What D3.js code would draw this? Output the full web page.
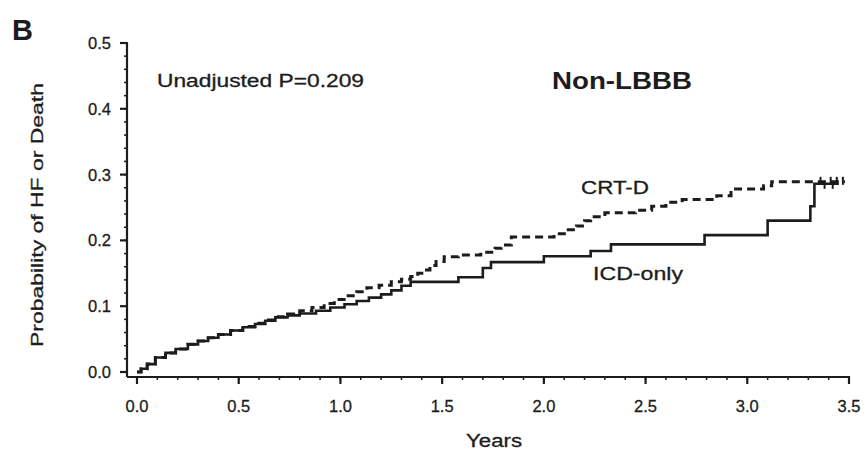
<!DOCTYPE html>
<html>
<head>
<meta charset="utf-8">
<script src="https://cdn.jsdelivr.net/npm/d3@7"></script>
<style>
  html, body { margin: 0; padding: 0; background: #fff; }
  svg { display: block; font-family: "Liberation Sans", Arial, sans-serif; }
</style>
</head>
<body>
<svg id="chart" width="866" height="451"></svg>
<script>
// Kaplan-Meier style cumulative curves
const crtTime = [0, 0.02, 0.05, 0.09, 0.14, 0.19, 0.25, 0.30, 0.35, 0.40, 0.46, 0.52, 0.58, 0.63, 0.68, 0.74, 0.80, 0.86, 0.92, 0.97, 1.03, 1.08, 1.13, 1.19, 1.25, 1.30, 1.345, 1.38, 1.41, 1.44, 1.47, 1.51, 1.58, 1.69, 1.76, 1.79, 1.84, 2.05, 2.12, 2.16, 2.20, 2.23, 2.30, 2.45, 2.53, 2.60, 2.68, 2.85, 2.92, 3.08, 3.12, 3.48];
const crtProb = [0, 0.005, 0.012, 0.022, 0.029, 0.035, 0.042, 0.047, 0.052, 0.057, 0.063, 0.069, 0.074, 0.079, 0.084, 0.088, 0.093, 0.098, 0.104, 0.110, 0.116, 0.122, 0.128, 0.132, 0.137, 0.141, 0.145, 0.150, 0.155, 0.162, 0.168, 0.175, 0.178, 0.182, 0.188, 0.193, 0.205, 0.210, 0.216, 0.222, 0.230, 0.236, 0.242, 0.246, 0.252, 0.258, 0.262, 0.268, 0.278, 0.283, 0.289, 0.289];
const crtCensor = [3.36, 3.41, 3.44, 3.47];

const icdTime = [0, 0.02, 0.05, 0.09, 0.14, 0.19, 0.25, 0.30, 0.35, 0.40, 0.46, 0.52, 0.58, 0.63, 0.68, 0.74, 0.80, 0.88, 0.95, 1.02, 1.08, 1.14, 1.20, 1.25, 1.30, 1.345, 1.58, 1.70, 1.74, 2.00, 2.23, 2.33, 2.79, 3.10, 3.31, 3.33, 3.45];
const icdProb = [0, 0.005, 0.012, 0.022, 0.029, 0.035, 0.042, 0.047, 0.052, 0.057, 0.063, 0.068, 0.073, 0.078, 0.083, 0.086, 0.089, 0.093, 0.098, 0.103, 0.108, 0.113, 0.118, 0.124, 0.131, 0.137, 0.144, 0.158, 0.167, 0.176, 0.184, 0.194, 0.208, 0.230, 0.252, 0.286, 0.286];
const icdCensor = [3.38, 3.42];

const xTicks = [0, 0.5, 1.0, 1.5, 2.0, 2.5, 3.0, 3.5];
const yTicks = [0, 0.1, 0.2, 0.3, 0.4, 0.5];

const svg = d3.select("#chart");
const ink = "#1c1c1c";

const x = d3.scaleLinear().domain([0, 3.5]).range([137, 849]);
const y = d3.scaleLinear().domain([0, 0.5]).range([372, 43]);

// offset axes (GraphPad look)
const yAxisX = 127, xAxisY = 377;

const yMinor = d3.range(0, 0.5001, 0.02);
const xMinor = d3.range(0, 3.5001, 0.1);

// a bit heavier text, the scan is soft and dark
const txt = (sel) => sel.attr("fill", ink).attr("stroke", ink).attr("stroke-width", 0.3);

const gy = svg.append("g").attr("transform", `translate(${yAxisX},0)`);
gy.append("line").attr("x1", 0).attr("x2", 0).attr("y1", y(0.5) - 1).attr("y2", xAxisY)
  .attr("stroke", ink).attr("stroke-width", 2.2);
gy.selectAll("line.minor").data(yMinor).join("line").attr("class", "minor")
  .attr("x1", -3).attr("x2", 0).attr("y1", d => y(d)).attr("y2", d => y(d))
  .attr("stroke", ink).attr("stroke-width", 1.5);
gy.selectAll("line.major").data(yTicks).join("line").attr("class", "major")
  .attr("x1", -7).attr("x2", 0).attr("y1", d => y(d)).attr("y2", d => y(d))
  .attr("stroke", ink).attr("stroke-width", 2.2);
gy.selectAll("text").data(yTicks).join("text")
  .attr("x", -16).attr("y", d => y(d)).attr("dy", "0.36em")
  .attr("text-anchor", "end").attr("font-size", 16.5)
  .call(txt)
  .text(d => d3.format(".1f")(d));

const gx = svg.append("g").attr("transform", `translate(0,${xAxisY})`);
gx.append("line").attr("x1", yAxisX).attr("x2", x(3.5) + 1).attr("y1", 0).attr("y2", 0)
  .attr("stroke", ink).attr("stroke-width", 2.2);
gx.selectAll("line.minor").data(xMinor).join("line").attr("class", "minor")
  .attr("x1", d => x(d)).attr("x2", d => x(d)).attr("y1", 0).attr("y2", 3)
  .attr("stroke", ink).attr("stroke-width", 1.5);
gx.selectAll("line.major").data(xTicks).join("line").attr("class", "major")
  .attr("x1", d => x(d)).attr("x2", d => x(d)).attr("y1", 0).attr("y2", 7)
  .attr("stroke", ink).attr("stroke-width", 2.2);
gx.selectAll("text").data(xTicks).join("text")
  .attr("x", d => x(d)).attr("y", 35)
  .attr("text-anchor", "middle").attr("font-size", 16.5)
  .call(txt)
  .text(d => d3.format(".1f")(d));

// curves
const line = d3.line().x(d => x(d[0])).y(d => y(d[1])).curve(d3.curveStepAfter);
const crt = crtTime.map((t, i) => [t, crtProb[i]]);
const icd = icdTime.map((t, i) => [t, icdProb[i]]);

svg.append("path").attr("d", line(icd)).attr("fill", "none")
  .attr("stroke", ink).attr("stroke-width", 2.6);
svg.append("path").attr("d", line(crt)).attr("fill", "none")
  .attr("stroke", ink).attr("stroke-width", 3).attr("stroke-dasharray", "8,5");

// censor ticks
const valAt = (times, probs, t) => probs[d3.bisectRight(times, t) - 1];
svg.selectAll("line.cc").data(crtCensor).join("line").attr("class", "cc")
  .attr("x1", d => x(d)).attr("x2", d => x(d))
  .attr("y1", d => y(valAt(crtTime, crtProb, d)) - 5).attr("y2", d => y(valAt(crtTime, crtProb, d)) + 3)
  .attr("stroke", ink).attr("stroke-width", 2);
svg.selectAll("line.ic").data(icdCensor).join("line").attr("class", "ic")
  .attr("x1", d => x(d)).attr("x2", d => x(d))
  .attr("y1", d => y(valAt(icdTime, icdProb, d)) - 3).attr("y2", d => y(valAt(icdTime, icdProb, d)) + 5)
  .attr("stroke", ink).attr("stroke-width", 2);

// texts
svg.append("text").attr("x", 12).attr("y", 40).attr("font-size", 29).attr("font-weight", "bold")
  .attr("fill", ink).text("B");
svg.append("text").attr("x", 157).attr("y", 87).attr("font-size", 18)
  .attr("textLength", 207).attr("lengthAdjust", "spacingAndGlyphs")
  .call(txt).text("Unadjusted P=0.209");
svg.append("text").attr("x", 552).attr("y", 89).attr("font-size", 24).attr("font-weight", "bold")
  .attr("fill", ink).attr("textLength", 140).attr("lengthAdjust", "spacingAndGlyphs").text("Non-LBBB");
svg.append("text").attr("x", 581).attr("y", 194).attr("font-size", 18)
  .attr("textLength", 68).attr("lengthAdjust", "spacingAndGlyphs")
  .call(txt).text("CRT-D");
svg.append("text").attr("x", 593).attr("y", 280).attr("font-size", 18)
  .attr("textLength", 90).attr("lengthAdjust", "spacingAndGlyphs")
  .call(txt).text("ICD-only");
svg.append("text").attr("x", 494).attr("y", 447).attr("text-anchor", "middle")
  .attr("font-size", 18).attr("textLength", 56).attr("lengthAdjust", "spacingAndGlyphs")
  .call(txt).text("Years");
svg.append("text").attr("transform", "translate(43,215) rotate(-90)")
  .attr("text-anchor", "middle").attr("font-size", 17)
  .attr("textLength", 264).attr("lengthAdjust", "spacingAndGlyphs")
  .call(txt).text("Probability of HF or Death");
</script>
</body>
</html>
